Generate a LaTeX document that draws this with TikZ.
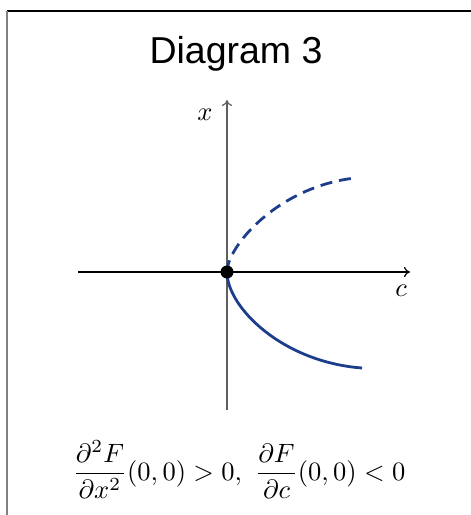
\documentclass[tikz,border=0pt]{standalone}
\usepackage{graphicx}
\usepackage{amsmath}
\usepackage{fontspec}
\newfontfamily\titlefont{Liberation Sans}
\usetikzlibrary{arrows.meta, positioning}
\definecolor{branchblue}{RGB}{28,62,140}
\definecolor{axisgray}{RGB}{95,95,95}
\newcommand{\mathbig}[1]{\scalebox{2.65}{#1}}

\begin{document}
\begin{tikzpicture}[x=1pt, y=1pt,
  axis/.style={-{To[length=6pt,width=10pt]}, line width=1.2pt},
  branch/.style={draw=branchblue, line width=2.8pt},
  frameline/.style={line width=1.4pt}
]

\useasboundingbox (-227,-243) rectangle (244,272);

% frame
\coordinate (tl) at (-220,261);
\coordinate (tr) at (244,261);
\coordinate (bl) at (-220,-243);
\draw[frameline, black] (tl) -- (tr);
\draw[frameline, gray] (tl) -- (bl);

\node[anchor=base, font=\titlefont\fontsize{37.5}{44}\selectfont] (title) at (9,209) {Diagram 3};

% axes
\coordinate (o) at (0,0);
\coordinate (cmin) at (-149,0);
\coordinate (cmax) at (183,0);
\coordinate (xmin) at (0,-138);
\coordinate (xmax) at (0,172);
\draw[axis] (cmin) -- (cmax);
\draw[axis, axisgray] (xmin) -- (xmax);
\node (xlab) at (-22,157) {\mathbig{$x$}};
\node (clab) at (174,-19) {\mathbig{$c$}};

% branches
\coordinate (up) at (128,94);
\coordinate (dn) at (135,-96);
\draw[branch, dash pattern=on 12pt off 7pt] (o) .. controls +(0,25) and +(-78,-9) .. (up);
\draw[branch] (o) .. controls +(0,-35) and +(-80,6) .. (dn);
\node[circle, fill=black, inner sep=0pt, minimum size=13pt] (pt) at (o) {};

\node[anchor=base] (cond) at (12,-208)
  {\mathbig{$\dfrac{\partial^2 F}{\partial x^2}(0,0) > 0,\ \dfrac{\partial F}{\partial c}(0,0) < 0$}};

\end{tikzpicture}
\end{document}
